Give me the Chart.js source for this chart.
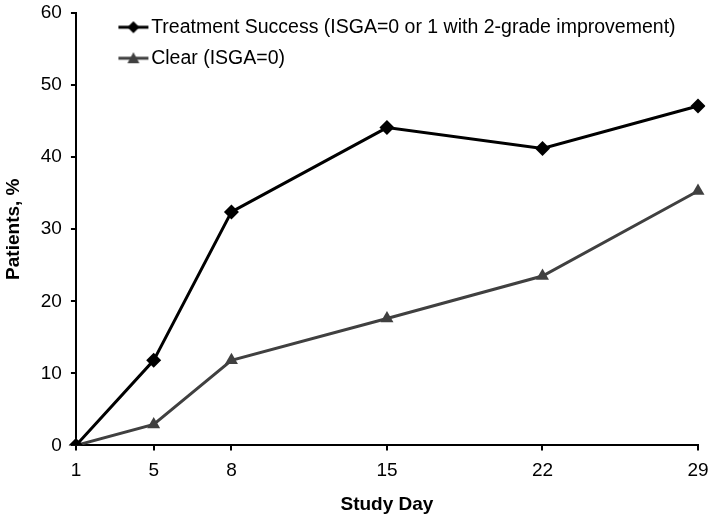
<!DOCTYPE html>
<html>
<head>
<meta charset="utf-8">
<script src="https://cdn.jsdelivr.net/npm/chart.js@4/dist/chart.umd.min.js"></script>
<style>
  html, body { margin: 0; padding: 0; background: #fff; }
  #wrap { width: 709px; height: 516px; }
</style>
</head>
<body>
<div id="wrap"><canvas id="myChart" width="709" height="516"></canvas></div>
<script>
"use strict";

//Category slots of the x axis (the blank ones keep the weekly spacing).
var dayLabels = ["1", "5", "8", "", "15", "", "22", "", "29"];
//Study days that have a measurement.
var studyDays = ["1", "5", "8", "15", "22", "29"];
//Percent of patients per study day.
var treatmentSuccess = [0, 11.8, 32.4, 44.1, 41.2, 47.1];
var clearSkin = [0, 2.9, 11.8, 17.6, 23.5, 35.3];
var yTicks = [0, 10, 20, 30, 40, 50, 60];

var seriesNames = ["Treatment Success (ISGA=0 or 1 with 2-grade improvement)", "Clear (ISGA=0)"];

//Puts each value into its slot on the category axis.
function toSlots(values) {
    var out = [];
    for (var i = 0; i < dayLabels.length; i++) {
        var k = studyDays.indexOf(dayLabels[i]);
        out.push(dayLabels[i] !== "" && k >= 0 ? values[k] : null);
    }
    return out;
}

//Small picture for the legend: a line with the marker in the middle.
function legendSample(color, style) {
    var c = document.createElement("canvas");
    c.width = 70;
    c.height = 16;
    var g = c.getContext("2d");
    g.strokeStyle = color;
    g.fillStyle = color;
    g.lineWidth = 3;
    g.beginPath();
    g.moveTo(39, 8);
    g.lineTo(69, 8);
    g.stroke();
    g.beginPath();
    if (style === "rectRot") {
        g.moveTo(54, 2); g.lineTo(60, 8); g.lineTo(54, 14); g.lineTo(48, 8);
    } else {
        g.moveTo(54, 2); g.lineTo(60, 13); g.lineTo(48, 13);
    }
    g.closePath();
    g.fill();
    return c;
}

var colors = ["#000000", "#404040"];
var styles = ["rectRot", "triangle"];

//Moves the legend down a bit so it sits like the original one.
var legendNudge = {
    id: "legendNudge",
    afterLayout: function (chart) {
        chart.legend.top += 6;
        chart.legend.bottom += 6;
    }
};

//Let the layout padding alone decide the plot edges.
function noEdgePadding(scale) {
    scale.paddingLeft = 0;
    scale.paddingRight = 0;
    scale.paddingTop = 0;
    scale.paddingBottom = 0;
}

var font = "'Liberation Sans', Arial, sans-serif";

var ctx = document.getElementById("myChart").getContext("2d");
var myChart = new Chart(ctx, {
    type: "line",
    data: {
        labels: dayLabels,
        datasets: [{
            label: seriesNames[0],
            data: toSlots(treatmentSuccess),
            borderColor: colors[0],
            backgroundColor: colors[0],
            borderWidth: 3,
            pointStyle: styles[0],
            pointRadius: 7.5,
            pointHoverRadius: 7.5,
            pointBorderWidth: 0,
            spanGaps: true,
            tension: 0
        }, {
            label: seriesNames[1],
            data: toSlots(clearSkin),
            borderColor: colors[1],
            backgroundColor: colors[1],
            borderWidth: 3,
            pointStyle: styles[1],
            pointRadius: 7.5,
            pointHoverRadius: 7.5,
            pointBorderWidth: 0,
            spanGaps: true,
            tension: 0
        }]
    },
    options: {
        responsive: false,
        animation: false,
        layout: { padding: { top: 13, right: 11, left: 0, bottom: 0 } },
        plugins: {
            tooltip: { enabled: false },
            legend: {
                position: "chartArea",
                align: "start",
                labels: {
                    usePointStyle: true,
                    pointStyleWidth: 54,
                    padding: 11.5,
                    color: "#000",
                    font: { family: font, size: 19.5 },
                    generateLabels: function (chart) {
                        return chart.data.datasets.map(function (ds, i) {
                            return {
                                text: ds.label,
                                pointStyle: legendSample(colors[i], styles[i]),
                                fillStyle: colors[i],
                                strokeStyle: colors[i],
                                lineWidth: 0,
                                fontColor: "#000",
                                datasetIndex: i
                            };
                        });
                    }
                }
            }
        },
        scales: {
            x: {
                offset: false,
                afterFit: noEdgePadding,
                border: { display: true, color: "#000", width: 2 },
                grid: {
                    display: true,
                    drawOnChartArea: false,
                    offset: false,
                    tickLength: 5,
                    lineWidth: 2,
                    tickColor: function (c) {
                        return dayLabels[c.index] === "" ? "rgba(0,0,0,0)" : "#000";
                    }
                },
                ticks: {
                    autoSkip: false,
                    maxRotation: 0,
                    padding: 9,
                    color: "#000",
                    font: { family: font, size: 19 }
                },
                title: {
                    display: true,
                    text: "Study Day",
                    color: "#000",
                    padding: { top: 2, bottom: 0 },
                    font: { family: font, size: 19, weight: "bold" }
                }
            },
            y: {
                min: 0,
                max: 60,
                afterBuildTicks: function (scale) {
                    scale.ticks = yTicks.map(function (v) { return { value: v }; });
                },
                afterFit: noEdgePadding,
                border: { display: true, color: "#000", width: 2 },
                grid: {
                    display: true,
                    drawOnChartArea: false,
                    tickLength: 5,
                    lineWidth: 2,
                    tickColor: "#000"
                },
                ticks: {
                    padding: 9,
                    color: "#000",
                    font: { family: font, size: 19, lineHeight: 1 }
                },
                title: {
                    display: true,
                    text: "Patients, %",
                    color: "#000",
                    padding: { top: 2, bottom: 7 },
                    font: { family: font, size: 19, weight: "bold" }
                }
            }
        }
    },
    plugins: [legendNudge]
});
</script>
</body>
</html>
